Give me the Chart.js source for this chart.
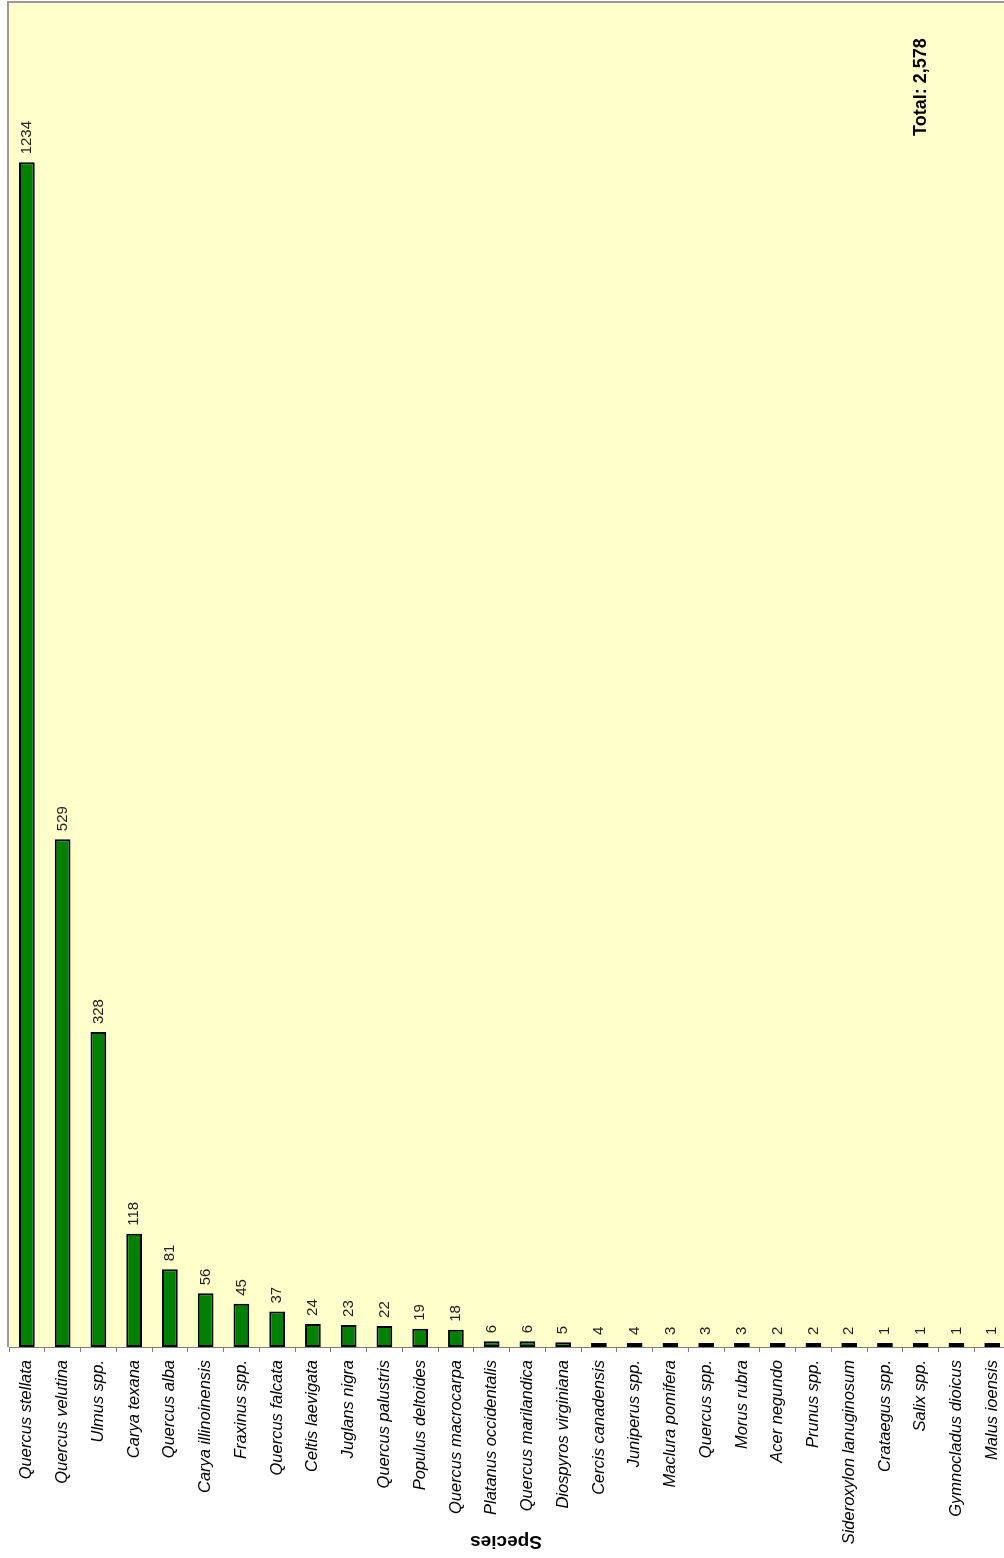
<!DOCTYPE html>
<html>
<head>
<meta charset="utf-8">
<script src="https://cdn.jsdelivr.net/npm/chart.js@4/dist/chart.umd.min.js"></script>
<style>
html,body{margin:0;padding:0;background:#fff;overflow:hidden;width:1004px;height:1558px;}
#c{position:absolute;left:0;top:0;display:block;}
</style>
</head>
<body>
<canvas id="c" width="1020" height="1558" style="width:1020px;height:1558px"></canvas>
<script>
const categories = ["Quercus stellata","Quercus velutina","Ulmus spp.","Carya texana","Quercus alba","Carya illinoinensis","Fraxinus spp.","Quercus falcata","Celtis laevigata","Juglans nigra","Quercus palustris","Populus deltoides","Quercus macrocarpa","Platanus occidentalis","Quercus marilandica","Diospyros virginiana","Cercis canadensis","Juniperus spp.","Maclura pomifera","Quercus spp.","Morus rubra","Acer negundo","Prunus spp.","Sideroxylon lanuginosum","Crataegus spp.","Salix spp.","Gymnocladus dioicus","Malus ioensis"];
const counts = [1234,529,328,118,81,56,45,37,24,23,22,19,18,6,6,5,4,4,3,3,3,2,2,2,1,1,1,1];
const axisTitle = "Species";
const totalLabel = "Total: 2,578";

const FONT = "'Liberation Sans', Arial, sans-serif";

const decor = {
  id: 'decor',
  beforeDatasetsDraw(chart) {
    const {ctx, chartArea: a} = chart;
    ctx.save();
    ctx.fillStyle = '#FFFFCC';
    ctx.fillRect(a.left, a.top, a.right - a.left, a.bottom - a.top);
    ctx.restore();
  },
  afterDatasetsDraw(chart) {
    const {ctx, chartArea: a} = chart;
    ctx.save();
    ctx.strokeStyle = '#9a9a9a';
    ctx.lineWidth = 2;
    ctx.beginPath();
    ctx.moveTo(a.left - 1, a.bottom);
    ctx.lineTo(a.left - 1, a.top - 1);
    ctx.lineTo(a.right + 1, a.top - 1);
    ctx.stroke();
    const meta = chart.getDatasetMeta(0);
    ctx.fillStyle = '#222';
    ctx.font = '15px ' + FONT;
    ctx.textAlign = 'left';
    ctx.textBaseline = 'middle';
    meta.data.forEach((bar, i) => {
      ctx.save();
      ctx.translate(bar.x, bar.y - 8);
      ctx.rotate(-Math.PI / 2);
      ctx.fillText(String(counts[i]), 0, 0);
      ctx.restore();
    });
    ctx.save();
    ctx.fillStyle = '#000';
    ctx.font = 'bold 18px ' + FONT;
    ctx.translate(921, 136);
    ctx.rotate(-Math.PI / 2);
    ctx.textAlign = 'left';
    ctx.textBaseline = 'middle';
    ctx.fillText(totalLabel, 0, 0);
    ctx.restore();
    ctx.save();
    ctx.fillStyle = '#000';
    ctx.font = 'bold 19px ' + FONT;
    ctx.translate(506, 1541);
    ctx.rotate(Math.PI);
    ctx.textAlign = 'center';
    ctx.textBaseline = 'middle';
    ctx.fillText(axisTitle, 0, 0);
    ctx.restore();
    ctx.restore();
  }
};

const chart = new Chart(document.getElementById('c'), {
  type: 'bar',
  data: {
    labels: categories,
    datasets: [{
      data: counts,
      backgroundColor: '#008000',
      borderColor: '#000',
      borderWidth: 2,
      borderSkipped: false,
      minBarLength: 4,
      barPercentage: 0.44,
      categoryPercentage: 1.0
    }]
  },
  options: {
    responsive: false,
    animation: false,
    devicePixelRatio: 1,
    layout: {padding: {left: 9, top: 3, right: 0, bottom: 0}},
    plugins: {legend: {display: false}, tooltip: {enabled: false}},
    scales: {
      x: {
        offset: true,
        afterFit(scale) { scale.height = 1558 - 1347; },
        border: {display: true, color: '#7f7f7f', width: 1},
        grid: {display: true, drawOnChartArea: false, drawTicks: true, tickLength: 5, color: '#7f7f7f', offset: true},
        ticks: {
          autoSkip: false, minRotation: 90, maxRotation: 90, padding: 8,
          color: '#000',
          font: {family: FONT, size: 16.5, style: 'italic'}
        }
      },
      y: {display: false, min: 0, max: 1400}
    }
  },
  plugins: [decor]
});
</script>
</body>
</html>
